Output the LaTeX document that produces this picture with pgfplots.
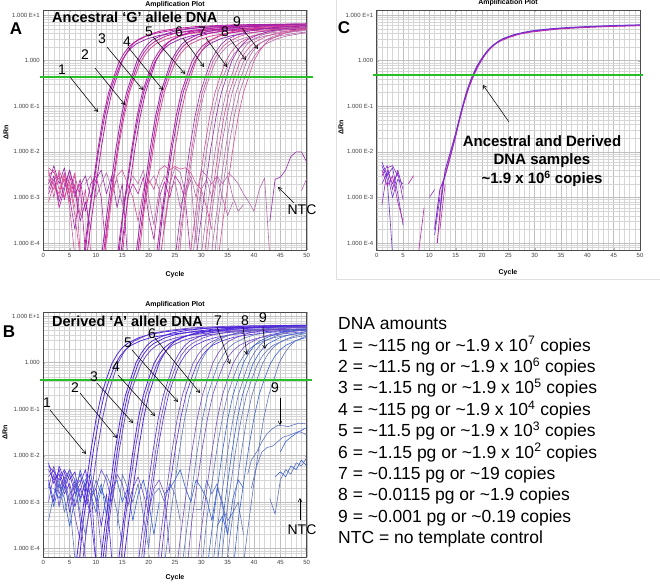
\documentclass[border=0pt]{standalone}
\usepackage{fontspec}
\setmainfont{Liberation Sans}
\usepackage{pgfplots}
\pgfplotsset{compat=1.18}
\usetikzlibrary{arrows.meta}
\definecolor{ma1}{RGB}{190,30,160}
\definecolor{ma2}{RGB}{150,40,170}
\definecolor{ma3}{RGB}{215,75,150}
\definecolor{ma4}{RGB}{180,105,170}
\definecolor{bl1}{RGB}{80,40,220}
\definecolor{bl2}{RGB}{110,75,200}
\definecolor{bl3}{RGB}{95,115,190}
\definecolor{bl4}{RGB}{55,95,210}
\definecolor{cv1}{RGB}{140,40,200}
\definecolor{cv2}{RGB}{185,40,170}
\definecolor{cv3}{RGB}{110,50,210}
\definecolor{thr}{RGB}{40,190,40}
\pgfplotsset{every axis/.append style={
  scale only axis, xmin=0, xmax=50,
  xtick={0,5,...,50}, xticklabels={0,5,10,15,20,25,30,35,40,45,50},
  ytick={1e-4,1e-3,1e-2,1e-1,1,10},
  yticklabels={1.000 E-4,1.000 E-3,1.000 E-2,1.000 E-1,1.000,1.000 E+1},
  minor xtick={1,2,3,4,6,7,8,9,11,12,13,14,16,17,18,19,21,22,23,24,26,27,28,29,31,32,33,34,36,37,38,39,41,42,43,44,46,47,48,49},
  minor ytick={8e-5,9e-5,2e-4,3e-4,4e-4,5e-4,6e-4,7e-4,8e-4,9e-4,2e-3,3e-3,4e-3,5e-3,6e-3,7e-3,8e-3,9e-3,0.02,0.03,0.04,0.05,0.06,0.07,0.08,0.09,0.2,0.3,0.4,0.5,0.6,0.7,0.8,0.9,2,3,4,5,6,7,8,9},
  grid=both, major grid style={gray!50,line width=0.4pt}, minor grid style={gray!32,line width=0.3pt},
  axis line style={gray!60!black,line width=0.5pt},
  tick label style={font=\fontsize{6}{7}\selectfont, text=black!75},
  major tick length=2pt, minor tick length=0pt, tick style={gray!60},
  clip mode=individual,
}, every axis plot/.append style={line width=0.6pt, line join=round}}
\begin{document}
\begin{tikzpicture}[x=1pt,y=1pt]
\useasboundingbox (0,0) rectangle (660,586);
\draw[gray!25, line width=0.8pt] (336.5,586) -- (336.5,307) -- (660,307);
% ================= PANEL A =================
\begin{axis}[ymode=log, at={(43.3pt,336pt)}, anchor=south west, width=263.4pt, height=240pt, ymin=7.08e-5, ymax=12.9]
% baseline noise
\addplot[ma3] coordinates {(1,3e-3)(2,4e-3)(3,1.5e-3)(4,2.5e-3)(5,8e-4)(6,2e-3)(7,4e-4)(8,1.5e-3)(9,6e-5)};
\addplot[ma1] coordinates {(1,1.2e-3)(2,2.5e-3)(3,3e-3)(4,9e-4)(5,3e-3)(6,1e-3)(7,2.5e-3)(8,5e-4)(9,2e-3)(10,3e-3)(11,1e-3)(12,5e-5)};
\addplot[ma3] coordinates {(1,4e-3)(2,1e-3)(3,4e-3)(4,2e-3)(5,1.5e-3)(6,3.5e-3)(7,6e-5)};
\addplot[ma2] coordinates {(1,2e-3)(2,5e-3)(3,2e-3)(4,4.5e-3)(5,1e-3)(6,2e-4)(7,1.8e-3)(8,3e-3)(9,1e-3)(10,2.5e-3)(11,4e-3)(12,1.2e-3)(13,3e-3)(14,6e-4)(15,2e-3)(16,5e-5)};
\addplot[ma3] coordinates {(1,8e-4)(2,2e-3)(3,1e-3)(4,3e-3)(5,2e-3)(6,4e-4)(7,5e-5)};
\addplot[ma1] coordinates {(2,3e-3)(3,6e-4)(4,1.5e-3)(5,4e-3)(6,1.2e-3)(7,2e-3)(8,6e-5)};
\addplot[ma3] coordinates {(1,2.5e-3)(2,1.5e-3)(3,3.5e-3)(4,1e-3)(5,2.2e-3)(6,6e-4)};
\addplot[ma3] coordinates {(1,4.5e-3)(2,3.5e-3)(3,2.5e-3)(4,3e-3)(5,1.2e-3)(6,3e-3)(7,1e-3)};
\addplot[ma2] coordinates {(1,1.5e-3)(2,3e-3)(3,8e-4)(4,1.8e-3)(5,4e-3)(6,1.5e-3)(7,3e-4)(8,8e-4)(9,2e-4)};
\addplot[ma3] coordinates {(1,3.5e-3)(2,2e-3)(3,1.2e-3)(4,3.5e-3)(5,6e-4)(6,5e-5)};
\addplot[ma4] coordinates {(8,2e-3)(9,3e-3)(10,1e-3)(11,2e-3)(12,3.5e-3)(13,1.5e-3)(14,2.5e-3)(15,7e-4)(16,1.5e-3)(17,3e-3)(18,2e-3)(19,4e-3)(20,1e-3)(21,2.5e-4)(22,1.5e-3)(23,3e-3)(24,2e-3)(25,4.5e-3)(26,3.5e-3)(27,1.2e-3)(28,2.5e-3)(29,1e-4)(30,1.5e-3)(31,2.5e-3)(32,1e-3)(33,3e-3)(34,2e-3)(35,3e-3)(36,1e-3)(37,5e-4)(38,7e-4)};
\addplot[ma3] coordinates {(12,1e-4)(13,1e-3)(14,3e-3)(15,4e-3)(16,2e-3)(17,1e-3)(18,3e-4)(19,1.5e-3)(20,2.5e-3)(21,1.5e-3)(22,4e-3)(23,5e-3)(24,4e-3)(25,4.8e-3)(26,4.2e-3)(27,4.5e-3)(28,3.5e-3)(29,2e-3)(30,1.5e-3)(31,6e-4)(32,2e-4)};
\addplot[ma1] coordinates {(15,5e-5)(16,1e-3)(17,2e-3)(18,1.2e-3)(19,2.8e-3)(20,4e-4)(21,1.2e-4)(22,1e-3)(23,2.2e-3)(24,1e-3)(25,3e-3)(26,2e-3)(27,8e-4)(28,5e-5)};
\addplot[ma4] coordinates {(20,2e-3)(21,3e-3)(22,1.5e-3)(23,2e-4)(24,1.5e-3)(25,2.2e-3)(26,6e-4)(27,1.5e-3)(28,3e-3)(29,1e-3)(30,4e-3)(31,3e-3)(32,2e-3)(33,3e-3)(34,1e-3)(35,4e-4)(36,8e-4)};
\addplot[ma4] coordinates {(35,3.5e-3)(36,2.8e-3)(37,2e-3)(38,1.2e-3)(39,8e-4)(40,5e-4)(41,1.5e-3)(42,2.7e-3)(43,5e-5)};
\addplot[ma2] coordinates {(43,3e-4)(44,2.5e-3)(45,2.8e-3)(46,4e-3)(47,8e-3)(48,1e-2)(49,1e-2)(50,6e-3)};
\addplot[ma4] coordinates {(49,1.4e-3)(50,2.6e-3)};
% group 1
\addplot[ma1,line width=0.8pt] coordinates {(7.4,3e-5)(8.4,2.5e-4)(9.4,1.8e-3)(10.4,0.012)(11.4,0.06)(12.4,0.2)(13.4,0.45)(14.4,0.95)(15.4,1.5)(16.4,2.1)(17.4,2.6)(19.4,3.4)(21.4,4.0)(24.4,4.6)(28.4,5.2)(35.4,5.7)(50,6.0)};
\addplot[ma2,line width=0.8pt] coordinates {(7.7,3e-5)(8.7,4e-4)(9.7,2.5e-3)(10.7,0.015)(11.7,0.065)(12.7,0.21)(13.7,0.45)(14.7,0.9)(15.7,1.4)(16.7,1.9)(17.7,2.35)(19.7,3.0)(21.7,3.5)(24.7,4.0)(28.7,4.5)(35.7,5.0)(50,5.3)};
\addplot[ma1,line width=0.8pt] coordinates {(8,3e-5)(9,2.5e-4)(10,1.8e-3)(11,0.012)(12,0.06)(13,0.2)(14,0.45)(15,1.0)(16,1.6)(17,2.3)(18,2.9)(20,3.7)(22,4.4)(25,5.0)(29,5.6)(36,6.1)(50,6.4)};
% group 2
\addplot[ma2,line width=0.8pt] coordinates {(10.8,3e-5)(11.8,2.5e-4)(12.8,1.8e-3)(13.8,0.012)(14.8,0.06)(15.8,0.2)(16.8,0.45)(17.8,1.0)(18.8,1.6)(19.8,2.3)(20.8,2.9)(22.8,3.7)(24.8,4.4)(27.8,5.0)(31.8,5.6)(38.8,6.1)(50,6.4)};
\addplot[ma1,line width=0.8pt] coordinates {(11.1,3e-5)(12.1,2.5e-4)(13.1,1.8e-3)(14.1,0.012)(15.1,0.06)(16.1,0.2)(17.1,0.45)(18.1,0.95)(19.1,1.5)(20.1,2.1)(21.1,2.6)(23.1,3.4)(25.1,4.0)(28.1,4.6)(32.1,5.2)(39.1,5.7)(50,5.95)};
\addplot[ma3,line width=0.8pt] coordinates {(11.4,3e-5)(12.4,4e-4)(13.4,2.5e-3)(14.4,0.015)(15.4,0.065)(16.4,0.21)(17.4,0.45)(18.4,0.9)(19.4,1.4)(20.4,1.9)(21.4,2.35)(23.4,3.0)(25.4,3.5)(28.4,4.0)(32.4,4.5)(39.4,5.0)(50,5.25)};
% group 3
\addplot[ma1,line width=0.8pt] coordinates {(13.8,3e-5)(14.8,2.5e-4)(15.8,1.8e-3)(16.8,0.012)(17.8,0.06)(18.8,0.2)(19.8,0.45)(20.8,0.95)(21.8,1.5)(22.8,2.1)(23.8,2.6)(25.8,3.4)(27.8,4.0)(30.8,4.6)(34.8,5.2)(41.8,5.7)(50,5.9)};
\addplot[ma2,line width=0.8pt] coordinates {(14.1,3e-5)(15.1,4e-4)(16.1,2.5e-3)(17.1,0.015)(18.1,0.065)(19.1,0.21)(20.1,0.45)(21.1,0.9)(22.1,1.4)(23.1,1.9)(24.1,2.35)(26.1,3.0)(28.1,3.5)(31.1,4.0)(35.1,4.5)(42.1,5.0)(50,5.2)};
\addplot[ma1,line width=0.8pt] coordinates {(14.4,3e-5)(15.4,2.5e-4)(16.4,1.8e-3)(17.4,0.012)(18.4,0.06)(19.4,0.2)(20.4,0.45)(21.4,1.0)(22.4,1.6)(23.4,2.3)(24.4,2.9)(26.4,3.7)(28.4,4.4)(31.4,5.0)(35.4,5.6)(42.4,6.1)(50,6.3)};
% group 4
\addplot[ma2,line width=0.8pt] coordinates {(17.3,3e-5)(18.3,2.5e-4)(19.3,1.8e-3)(20.3,0.012)(21.3,0.06)(22.3,0.2)(23.3,0.45)(24.3,1.0)(25.3,1.6)(26.3,2.3)(27.3,2.9)(29.3,3.7)(31.3,4.4)(34.3,5.0)(38.3,5.6)(45.3,6.1)(50,6.25)};
\addplot[ma1,line width=0.8pt] coordinates {(17.6,3e-5)(18.6,2.5e-4)(19.6,1.8e-3)(20.6,0.012)(21.6,0.06)(22.6,0.2)(23.6,0.45)(24.6,0.95)(25.6,1.5)(26.6,2.1)(27.6,2.6)(29.6,3.4)(31.6,4.0)(34.6,4.6)(38.6,5.2)(45.6,5.7)(50,5.85)};
\addplot[ma3,line width=0.8pt] coordinates {(18,3e-5)(19,4e-4)(20,2.5e-3)(21,0.015)(22,0.065)(23,0.21)(24,0.45)(25,0.9)(26,1.4)(27,1.9)(28,2.35)(30,3.0)(32,3.5)(35,4.0)(39,4.5)(46,5.0)(50,5.15)};
% group 5
\addplot[ma1,line width=0.8pt] coordinates {(21.2,3e-5)(22.2,2.5e-4)(23.2,1.8e-3)(24.2,0.012)(25.2,0.06)(26.2,0.2)(27.2,0.45)(28.2,0.95)(29.2,1.5)(30.2,2.1)(31.2,2.6)(33.2,3.4)(35.2,4.0)(38.2,4.6)(42.2,5.2)(49.2,5.7)(50,5.72)};
\addplot[ma2,line width=0.8pt] coordinates {(21.6,3e-5)(22.6,4e-4)(23.6,2.5e-3)(24.6,0.015)(25.6,0.065)(26.6,0.21)(27.6,0.45)(28.6,0.9)(29.6,1.4)(30.6,1.9)(31.6,2.35)(33.6,3.0)(35.6,3.5)(38.6,4.0)(42.6,4.5)(50,5.0)};
\addplot[ma3,line width=0.8pt] coordinates {(22,3e-5)(23,2.5e-4)(24,1.8e-3)(25,0.012)(26,0.06)(27,0.2)(28,0.45)(29,1.0)(30,1.6)(31,2.3)(32,2.9)(34,3.7)(36,4.4)(39,5.0)(43,5.6)(50,6.1)};
% group 6
\addplot[ma2] coordinates {(24.8,3e-5)(25.8,2.5e-4)(26.8,1.8e-3)(27.8,0.012)(28.8,0.06)(29.8,0.2)(30.8,0.45)(31.8,1.0)(32.8,1.6)(33.8,2.3)(34.8,2.9)(36.8,3.7)(38.8,4.4)(41.8,5.0)(45.8,5.6)(50,5.9)};
\addplot[ma3] coordinates {(25.2,3e-5)(26.2,2.5e-4)(27.2,1.8e-3)(28.2,0.012)(29.2,0.06)(30.2,0.2)(31.2,0.45)(32.2,0.95)(33.2,1.5)(34.2,2.1)(35.2,2.6)(37.2,3.4)(39.2,4.0)(42.2,4.6)(46.2,5.2)(50,5.45)};
\addplot[ma4] coordinates {(25.6,3e-5)(26.6,4e-4)(27.6,2.5e-3)(28.6,0.015)(29.6,0.065)(30.6,0.21)(31.6,0.45)(32.6,0.9)(33.6,1.4)(34.6,1.9)(35.6,2.35)(37.6,3.0)(39.6,3.5)(42.6,4.0)(46.6,4.5)(50,4.75)};
% group 7
\addplot[ma3] coordinates {(27.6,3e-5)(28.6,2.5e-4)(29.6,1.8e-3)(30.6,0.012)(31.6,0.06)(32.6,0.2)(33.6,0.45)(34.6,0.95)(35.6,1.5)(36.6,2.1)(37.6,2.6)(39.6,3.4)(41.6,4.0)(44.6,4.6)(48.6,5.2)(50,5.3)};
\addplot[ma4] coordinates {(28.2,3e-5)(29.2,4e-4)(30.2,2.5e-3)(31.2,0.015)(32.2,0.065)(33.2,0.21)(34.2,0.45)(35.2,0.9)(36.2,1.4)(37.2,1.9)(38.2,2.35)(40.2,3.0)(42.2,3.5)(45.2,4.0)(49.2,4.5)(50,4.55)};
\addplot[ma2] coordinates {(28.8,3e-5)(29.8,2.5e-4)(30.8,1.8e-3)(31.8,0.012)(32.8,0.06)(33.8,0.2)(34.8,0.45)(35.8,1.0)(36.8,1.6)(37.8,2.3)(38.8,2.9)(40.8,3.7)(42.8,4.4)(45.8,5.0)(50,5.55)};
% group 8
\addplot[ma4] coordinates {(29.7,3e-5)(30.7,2.5e-4)(31.7,1.8e-3)(32.7,0.012)(33.7,0.06)(34.7,0.2)(35.7,0.45)(36.7,1.0)(37.7,1.6)(38.7,2.3)(39.7,2.9)(41.7,3.7)(43.7,4.4)(46.7,5.0)(50,5.45)};
\addplot[ma3] coordinates {(30.3,3e-5)(31.3,2.5e-4)(32.3,1.8e-3)(33.3,0.012)(34.3,0.06)(35.3,0.2)(36.3,0.45)(37.3,0.95)(38.3,1.5)(39.3,2.1)(40.3,2.6)(42.3,3.4)(44.3,4.0)(47.3,4.6)(50,4.95)};
\addplot[ma4] coordinates {(30.9,3e-5)(31.9,4e-4)(32.9,2.5e-3)(33.9,0.015)(34.9,0.065)(35.9,0.21)(36.9,0.45)(37.9,0.9)(38.9,1.4)(39.9,1.9)(40.9,2.35)(42.9,3.0)(44.9,3.5)(47.9,4.0)(50,4.25)};
% group 9
\addplot[ma4] coordinates {(31.6,3e-5)(32.6,2.5e-4)(33.6,1.8e-3)(34.6,0.012)(35.6,0.06)(36.6,0.2)(37.6,0.45)(38.6,0.95)(39.6,1.5)(40.6,2.1)(41.6,2.6)(43.6,3.4)(45.6,4.0)(48.6,4.6)(50,4.8)};
\addplot[ma4] coordinates {(32.3,3e-5)(33.3,4e-4)(34.3,2.5e-3)(35.3,0.015)(36.3,0.065)(37.3,0.21)(38.3,0.45)(39.3,0.9)(40.3,1.4)(41.3,1.9)(42.3,2.35)(44.3,3.0)(46.3,3.5)(49.3,4.0)(50,4.1)};
\addplot[ma3] coordinates {(33,3e-5)(34,2.5e-4)(35,1.8e-3)(36,0.012)(37,0.06)(38,0.2)(39,0.45)(40,1.0)(41,1.6)(42,2.3)(43,2.9)(45,3.7)(47,4.4)(50,5.0)};
\draw[thr,line width=1.6pt] (axis cs:-0.7,0.436) -- (axis cs:51.2,0.436);
\end{axis}
% ================= PANEL B =================
\begin{axis}[ymode=log, at={(43.3pt,29pt)}, anchor=south west, width=263.4pt, height=245pt, ymin=6.6e-5, ymax=12.3]
\addplot[bl1] coordinates {(1,5e-3)(2,3e-3)(3,4e-3)(4,1.5e-3)(5,2.5e-3)(6,8e-4)(7,2e-3)(8,1e-3)(9,3e-3)(10,5e-5)};
\addplot[bl2] coordinates {(1,2e-3)(2,6e-3)(3,2e-3)(4,3.5e-3)(5,1e-3)(6,3e-3)(7,4e-4)(8,6e-5)};
\addplot[bl1] coordinates {(1,7e-3)(2,2.5e-3)(3,5e-3)(4,2e-3)(5,4e-3)(6,1.5e-3)(7,2.5e-3)(8,5e-3)(9,1.2e-3)(10,2e-3)(11,3e-4)(12,1.5e-3)(13,6e-5)};
\addplot[bl2] coordinates {(1,1e-3)(2,4e-3)(3,8e-4)(4,4.5e-3)(5,2e-3)(6,5e-4)(7,1.5e-4)};
\addplot[bl3] coordinates {(1,4e-4)(2,1.5e-3)(3,3e-3)(4,6e-4)(5,1.5e-3)(6,2.5e-3)(7,6e-4)(8,2e-4)(9,1e-3)(10,3e-3)(11,1.5e-3)(12,4e-3)(13,2e-3)(14,6e-4)(15,1.2e-4)};
\addplot[bl1] coordinates {(1,3e-3)(2,1e-3)(3,6e-3)(4,3e-3)(5,6e-4)(6,2e-3)(7,4e-3)(8,1.5e-3)(9,5e-4)(10,5e-5)};
\addplot[bl4] coordinates {(2,2e-3)(3,1.2e-3)(4,2.5e-3)(5,5e-3)(6,3e-3)(7,1e-3)(8,3e-3)(9,4e-3)(10,1e-3)(11,2.5e-3)(12,5e-4)(13,2e-3)(14,3e-3)(15,1e-3)(16,2e-3)(17,4e-4)(18,1.5e-3)(19,3e-3)(20,1e-3)(21,2e-4)(22,1e-3)};
\addplot[bl2] coordinates {(10,2e-3)(11,5e-3)(12,3e-3)(13,1e-3)(14,4e-3)(15,2.5e-3)(16,8e-4)(17,2e-3)(18,3.5e-3)(19,1.5e-3)(20,6e-4)(21,2e-3)(22,3e-3)(23,1.5e-3)(24,8e-5)};
\addplot[bl3] coordinates {(14,3e-4)(15,4e-3)(16,2e-3)(17,1e-3)(18,2.5e-3)(19,5e-4)(20,1e-4)(21,1.5e-3)(22,2e-3)(23,1e-3)(24,2.5e-3)(25,1.5e-3)(26,4e-4)};
\addplot[bl4] coordinates {(23,1.5e-3)(24,2e-3)(25,3e-3)(26,5e-3)(27,2e-3)(28,1e-3)(29,3e-3)(30,2e-3)(31,1.2e-3)(32,4e-4)(33,2e-3)(34,1e-3)(35,2e-4)};
\addplot[bl3] coordinates {(29,7e-4)(30,7e-4)(31,3e-3)(32,1.5e-3)(33,2.5e-3)(34,8e-4)(35,4e-4)(36,6e-4)(37,1e-3)(38,2e-4)};
\addplot[bl1] coordinates {(1,6e-3)(2,4.5e-3)(3,3e-3)(4,5e-3)(5,3e-3)(6,4.5e-3)(7,1.2e-3)(8,2.5e-3)(9,6e-4)};
\addplot[bl2] coordinates {(1,3.5e-3)(2,5e-3)(3,1.5e-3)(4,3e-3)(5,5e-3)(6,2e-3)(7,3e-3)(8,8e-4)(9,2e-3)(10,1.2e-3)(11,1e-4)};
\addplot[bl4] coordinates {(1,2.5e-3)(2,8e-4)(3,2.5e-3)(4,1.2e-3)(5,3e-4)(6,1.2e-3)(7,5e-3)(8,2e-3)(9,1.5e-3)(10,6e-4)(11,2e-3)(12,1e-3)};
\addplot[bl3] coordinates {(3,8e-4)(4,2e-3)(5,1e-3)(6,6e-5)};
\addplot[bl4] coordinates {(33,3e-4)(34,5e-4)(35,2e-4)(36,1.2e-3)(37,3e-3)(38,2e-3)};
% NTC and late
\addplot[bl3] coordinates {(43,1.2e-3)(44,5.5e-4)(45,3e-3)(46,5e-3)(47,4e-3)(48,7e-3)(49,6e-3)(50,9e-3)};
\addplot[bl4] coordinates {(44,3.5e-3)(45,4.5e-3)(46,3.5e-3)(47,6e-3)(48,5e-3)(49,8e-3)(50,6e-3)};
\addplot[bl3] coordinates {(38.8,4e-3)(39.5,8e-3)(40.5,0.012)(41.5,0.02)(42.5,0.03)(43.5,0.038)(44.5,0.045)(45.5,0.044)(46.5,0.042)(47.5,0.046)(48.5,0.05)(50,0.048)};
\addplot[bl3] coordinates {(39.5,2e-3)(40.5,6e-3)(41.5,0.012)(42.5,0.015)(43.5,0.016)(44.5,0.02)(45.5,0.025)(46.5,0.027)(47.5,0.03)(48.5,0.033)(49.5,0.03)(50,0.028)};
\addplot[bl4] coordinates {(45,0.012)(46,0.02)(47,0.025)(48,0.03)(49,0.035)(50,0.04)};
% group 1
\addplot[bl1,line width=0.8pt] coordinates {(6,3e-5)(7,2.5e-4)(8,1.8e-3)(9,0.012)(10,0.06)(11,0.2)(12,0.45)(13,0.95)(14,1.5)(15,2.1)(16,2.6)(18,3.4)(20,4.0)(23,4.6)(27,5.2)(34,5.7)(50,6.0)};
\addplot[bl1,line width=0.8pt] coordinates {(6.6,3e-5)(7.6,4e-4)(8.6,2.5e-3)(9.6,0.015)(10.6,0.065)(11.6,0.21)(12.6,0.45)(13.6,0.9)(14.6,1.4)(15.6,1.9)(16.6,2.35)(18.6,3.0)(20.6,3.5)(23.6,4.0)(27.6,4.5)(34.6,5.0)(50,5.3)};
\addplot[bl2,line width=0.8pt] coordinates {(7.2,3e-5)(8.2,2.5e-4)(9.2,1.8e-3)(10.2,0.012)(11.2,0.06)(12.2,0.2)(13.2,0.45)(14.2,1.0)(15.2,1.6)(16.2,2.3)(17.2,2.9)(19.2,3.7)(21.2,4.4)(24.2,5.0)(28.2,5.6)(35.2,6.1)(50,6.4)};
% group 2
\addplot[bl1,line width=0.8pt] coordinates {(10.6,3e-5)(11.6,2.5e-4)(12.6,1.8e-3)(13.6,0.012)(14.6,0.06)(15.6,0.2)(16.6,0.45)(17.6,1.0)(18.6,1.6)(19.6,2.3)(20.6,2.9)(22.6,3.7)(24.6,4.4)(27.6,5.0)(31.6,5.6)(38.6,6.1)(50,6.4)};
\addplot[bl1,line width=0.8pt] coordinates {(11,3e-5)(12,2.5e-4)(13,1.8e-3)(14,0.012)(15,0.06)(16,0.2)(17,0.45)(18,0.95)(19,1.5)(20,2.1)(21,2.6)(23,3.4)(25,4.0)(28,4.6)(32,5.2)(39,5.7)(50,5.95)};
\addplot[bl2,line width=0.8pt] coordinates {(11.5,3e-5)(12.5,4e-4)(13.5,2.5e-3)(14.5,0.015)(15.5,0.065)(16.5,0.21)(17.5,0.45)(18.5,0.9)(19.5,1.4)(20.5,1.9)(21.5,2.35)(23.5,3.0)(25.5,3.5)(28.5,4.0)(32.5,4.5)(39.5,5.0)(50,5.25)};
% group 3
\addplot[bl1,line width=0.8pt] coordinates {(14,3e-5)(15,2.5e-4)(16,1.8e-3)(17,0.012)(18,0.06)(19,0.2)(20,0.45)(21,0.95)(22,1.5)(23,2.1)(24,2.6)(26,3.4)(28,4.0)(31,4.6)(35,5.2)(42,5.7)(50,5.9)};
\addplot[bl2,line width=0.8pt] coordinates {(14.5,3e-5)(15.5,4e-4)(16.5,2.5e-3)(17.5,0.015)(18.5,0.065)(19.5,0.21)(20.5,0.45)(21.5,0.9)(22.5,1.4)(23.5,1.9)(24.5,2.35)(26.5,3.0)(28.5,3.5)(31.5,4.0)(35.5,4.5)(42.5,5.0)(50,5.2)};
\addplot[bl1,line width=0.8pt] coordinates {(15,3e-5)(16,2.5e-4)(17,1.8e-3)(18,0.012)(19,0.06)(20,0.2)(21,0.45)(22,1.0)(23,1.6)(24,2.3)(25,2.9)(27,3.7)(29,4.4)(32,5.0)(36,5.6)(43,6.1)(50,6.3)};
% group 4
\addplot[bl1] coordinates {(17.8,3e-5)(18.8,2.5e-4)(19.8,1.8e-3)(20.8,0.012)(21.8,0.06)(22.8,0.2)(23.8,0.45)(24.8,1.0)(25.8,1.6)(26.8,2.3)(27.8,2.9)(29.8,3.7)(31.8,4.4)(34.8,5.0)(38.8,5.6)(45.8,6.1)(50,6.2)};
\addplot[bl2] coordinates {(18.3,3e-5)(19.3,2.5e-4)(20.3,1.8e-3)(21.3,0.012)(22.3,0.06)(23.3,0.2)(24.3,0.45)(25.3,0.95)(26.3,1.5)(27.3,2.1)(28.3,2.6)(30.3,3.4)(32.3,4.0)(35.3,4.6)(39.3,5.2)(46.3,5.7)(50,5.8)};
\addplot[bl1] coordinates {(18.8,3e-5)(19.8,4e-4)(20.8,2.5e-3)(21.8,0.015)(22.8,0.065)(23.8,0.21)(24.8,0.45)(25.8,0.9)(26.8,1.4)(27.8,1.9)(28.8,2.35)(30.8,3.0)(32.8,3.5)(35.8,4.0)(39.8,4.5)(46.8,5.0)(50,5.1)};
% group 5
\addplot[bl2] coordinates {(21.4,3e-5)(22.4,2.5e-4)(23.4,1.8e-3)(24.4,0.012)(25.4,0.06)(26.4,0.2)(27.4,0.45)(28.4,0.95)(29.4,1.5)(30.4,2.1)(31.4,2.6)(33.4,3.4)(35.4,4.0)(38.4,4.6)(42.4,5.2)(49.4,5.7)(50,5.72)};
\addplot[bl1] coordinates {(22.1,3e-5)(23.1,4e-4)(24.1,2.5e-3)(25.1,0.015)(26.1,0.065)(27.1,0.21)(28.1,0.45)(29.1,0.9)(30.1,1.4)(31.1,1.9)(32.1,2.35)(34.1,3.0)(36.1,3.5)(39.1,4.0)(43.1,4.5)(50,4.98)};
\addplot[bl3] coordinates {(22.8,3e-5)(23.8,2.5e-4)(24.8,1.8e-3)(25.8,0.012)(26.8,0.06)(27.8,0.2)(28.8,0.45)(29.8,1.0)(30.8,1.6)(31.8,2.3)(32.8,2.9)(34.8,3.7)(36.8,4.4)(39.8,5.0)(43.8,5.6)(50,6.0)};
% group 6
\addplot[bl2] coordinates {(25.2,3e-5)(26.2,2.5e-4)(27.2,1.8e-3)(28.2,0.012)(29.2,0.06)(30.2,0.2)(31.2,0.45)(32.2,1.0)(33.2,1.6)(34.2,2.3)(35.2,2.9)(37.2,3.7)(39.2,4.4)(42.2,5.0)(46.2,5.6)(50,5.85)};
\addplot[bl3] coordinates {(26.2,3e-5)(27.2,2.5e-4)(28.2,1.8e-3)(29.2,0.012)(30.2,0.06)(31.2,0.2)(32.2,0.45)(33.2,0.95)(34.2,1.5)(35.2,2.1)(36.2,2.6)(38.2,3.4)(40.2,4.0)(43.2,4.6)(47.2,5.2)(50,5.4)};
\addplot[bl2] coordinates {(27.2,3e-5)(28.2,4e-4)(29.2,2.5e-3)(30.2,0.015)(31.2,0.065)(32.2,0.21)(33.2,0.45)(34.2,0.9)(35.2,1.4)(36.2,1.9)(37.2,2.35)(39.2,3.0)(41.2,3.5)(44.2,4.0)(48.2,4.5)(50,4.65)};
% group 7
\addplot[bl2] coordinates {(29,3e-5)(30,2.5e-4)(31,1.8e-3)(32,0.012)(33,0.06)(34,0.2)(35,0.45)(36,0.95)(37,1.5)(38,2.1)(39,2.6)(41,3.4)(43,4.0)(46,4.6)(50,5.15)};
\addplot[bl3] coordinates {(30,3e-5)(31,4e-4)(32,2.5e-3)(33,0.015)(34,0.065)(35,0.21)(36,0.45)(37,0.9)(38,1.4)(39,1.9)(40,2.35)(42,3.0)(44,3.5)(47,4.0)(50,4.35)};
\addplot[bl4] coordinates {(31,3e-5)(32,2.5e-4)(33,1.8e-3)(34,0.012)(35,0.06)(36,0.2)(37,0.45)(38,1.0)(39,1.6)(40,2.3)(41,2.9)(43,3.7)(45,4.4)(48,5.0)(50,5.2)};
% group 8
\addplot[bl3] coordinates {(32,3e-5)(33,2.5e-4)(34,1.8e-3)(35,0.012)(36,0.06)(37,0.2)(38,0.45)(39,1.0)(40,1.6)(41,2.3)(42,2.9)(44,3.7)(46,4.4)(49,5.0)(50,5.1)};
\addplot[bl4] coordinates {(32.8,3e-5)(33.8,2.5e-4)(34.8,1.8e-3)(35.8,0.012)(36.8,0.06)(37.8,0.2)(38.8,0.45)(39.8,0.95)(40.8,1.5)(41.8,2.1)(42.8,2.6)(44.8,3.4)(46.8,4.0)(49.8,4.6)(50,4.62)};
\addplot[bl3] coordinates {(33.6,3e-5)(34.6,4e-4)(35.6,2.5e-3)(36.6,0.015)(37.6,0.065)(38.6,0.21)(39.6,0.45)(40.6,0.9)(41.6,1.4)(42.6,1.9)(43.6,2.35)(45.6,3.0)(47.6,3.5)(50,3.85)};
% group 9
\addplot[bl3] coordinates {(34.6,3e-5)(35.6,2.5e-4)(36.6,1.8e-3)(37.6,0.012)(38.6,0.06)(39.6,0.2)(40.6,0.45)(41.6,0.95)(42.6,1.5)(43.6,2.1)(44.6,2.6)(46.6,3.4)(48.6,4.0)(50,4.25)};
\addplot[bl4] coordinates {(36,3e-5)(37,4e-4)(38,2.5e-3)(39,0.015)(40,0.065)(41,0.21)(42,0.45)(43,0.9)(44,1.4)(45,1.9)(46,2.35)(48,3.0)(50,3.5)};
\addplot[bl3] coordinates {(37.8,3e-5)(38.8,2.5e-4)(39.8,1.8e-3)(40.8,0.012)(41.8,0.06)(42.8,0.2)(43.8,0.45)(44.8,1.0)(45.8,1.6)(46.8,2.3)(47.8,2.9)(49.8,3.7)(50,3.75)};
\draw[thr,line width=1.6pt] (axis cs:-0.7,0.42) -- (axis cs:51,0.42);
\end{axis}
% ================= PANEL C =================
\begin{axis}[ymode=log, at={(376.7pt,336pt)}, anchor=south west, width=263.3pt, height=240pt, ymin=7.08e-5, ymax=12.9]
\addplot[cv3] coordinates {(1,6e-3)(2,3e-3)(3,4.5e-3)(4,1.2e-3)(5,2.5e-4)};
\addplot[cv1] coordinates {(1,7e-4)(2,4e-3)(3,2e-3)(4,3.5e-3)(5,9e-4)};
\addplot[cv3] coordinates {(1,5e-3)(2,2.5e-3)(3,6e-5)};
\addplot[cv1] coordinates {(1,3e-3)(2,5e-3)(3,1.5e-3)(4,4e-3)(5,1.5e-3)};
\addplot[cv2] coordinates {(1,4e-3)(2,1.8e-3)(3,3e-3)(4,8e-4)(5,3e-4)};
\addplot[cv3] coordinates {(1,2e-3)(2,3.5e-3)(3,1e-3)(4,2.5e-3)(5,2e-3)};
\addplot[cv1] coordinates {(2,4.5e-3)(3,5e-3)(4,3e-3)};
\addplot[cv2] coordinates {(6,2e-3)(7,3e-3)};
\addplot[cv2] coordinates {(8,7e-5)(9,6e-4)};
\addplot[cv1] coordinates {(10,1e-3)(11,1.5e-3)};
\addplot[cv3] coordinates {(11,1.5e-4)(12,1e-3)};
\addplot[cv2] coordinates {(12,2e-4)(13,2e-3)};
\addplot[cv1,line width=0.9pt] coordinates {(11,2e-4)(12,1.5e-3)(13,3e-3)(14,8e-3)(15,0.022)(16,0.07)(17,0.18)(18,0.38)(19,0.7)(20,1.1)(21,1.6)(22,2.1)(23,2.6)(24,3.0)(26,3.6)(28,4.1)(30,4.5)(33,4.9)(36,5.2)(40,5.5)(45,5.8)(50,6.0)};
\addplot[cv2,line width=0.9pt] coordinates {(11.5,1e-4)(12.5,2e-3)(13.5,5e-3)(14.5,0.014)(15.5,0.04)(16.5,0.11)(17.5,0.26)(18.5,0.5)(19.5,0.85)(20.5,1.3)(21.5,1.8)(22.5,2.3)(23.5,2.7)(25,3.2)(27,3.8)(29,4.2)(32,4.6)(35,5.0)(39,5.3)(44,5.6)(50,5.85)};
\addplot[cv3,line width=0.9pt] coordinates {(12,5e-4)(13,4e-3)(14,0.01)(15,0.026)(16,0.075)(17,0.2)(18,0.42)(19,0.75)(20,1.15)(21,1.65)(22,2.15)(23,2.6)(24,3.05)(26,3.7)(28,4.2)(30,4.6)(33,5.0)(36,5.3)(40,5.6)(45,5.9)(50,6.1)};
\draw[thr,line width=1.6pt] (axis cs:-0.7,0.48) -- (axis cs:50.6,0.48);
\end{axis}
% ================= TEXT =================
\tikzset{ttl/.style={font=\bfseries\fontsize{7}{8}\selectfont},
  lbl/.style={font=\fontsize{14}{16}\selectfont, inner sep=0pt},
  arr/.style={-{Straight Barb[length=3.5pt,width=4pt]}, line width=0.55pt, black}}
\node[ttl] at (175,581) {Amplification Plot};
\node[ttl] at (175,281) {Amplification Plot};
\node[ttl] at (508,583) {Amplification Plot};
\node[ttl] at (175,311) {Cycle};
\node[ttl] at (175,8) {Cycle};
\node[ttl] at (508,313) {Cycle};
\node[ttl,rotate=90] at (6,454) {ΔRn};
\node[ttl,rotate=90] at (5,154) {ΔRn};
\node[ttl,rotate=90] at (341,459) {ΔRn};
\node[font=\bfseries\fontsize{17}{18}\selectfont] at (16,557) {A};
\node[font=\bfseries\fontsize{17}{18}\selectfont] at (9,254) {B};
\node[font=\bfseries\fontsize{17}{18}\selectfont] at (344,558) {C};
\node[font=\bfseries\fontsize{14.5}{16}\selectfont, anchor=west, inner sep=0pt] at (52,569) {Ancestral ‘G’ allele DNA};
\node[font=\bfseries\fontsize{14.5}{16}\selectfont, anchor=west, inner sep=0pt] at (52,265) {Derived ‘A’ allele DNA};
% A labels
\node[lbl] at (62,516) {1}; \draw[arr] (70,509) -- (98,474);
\node[lbl] at (85,531) {2}; \draw[arr] (95,518) -- (125,481);
\node[lbl] at (102,547) {3}; \draw[arr] (107,539) -- (143,496);
\node[lbl] at (127,544) {4}; \draw[arr] (128,539) -- (163,496);
\node[lbl] at (149,554) {5}; \draw[arr] (153,549) -- (185,512);
\node[lbl] at (179,554) {6}; \draw[arr] (183,548) -- (204,519);
\node[lbl] at (202,554) {7}; \draw[arr] (206,548) -- (227,519);
\node[lbl] at (225,554) {8}; \draw[arr] (230,547) -- (246,526);
\node[lbl] at (237,564) {9}; \draw[arr] (242,558) -- (258,537);
\node[lbl] at (302,376) {NTC}; \draw[arr] (294,383) -- (278,399);
% B labels
\node[lbl] at (47,183) {1}; \draw[arr] (50,176) -- (86,132);
\node[lbl] at (75,198) {2}; \draw[arr] (80,193) -- (117,148);
\node[lbl] at (94,209) {3}; \draw[arr] (97,203) -- (133,163);
\node[lbl] at (116,219) {4}; \draw[arr] (118,211) -- (155,170);
\node[lbl] at (128,243) {5}; \draw[arr] (132,236) -- (178,184);
\node[lbl] at (152,252) {6}; \draw[arr] (155,248) -- (200,193);
\node[lbl] at (218,265) {7}; \draw[arr] (217,259) -- (230,222);
\node[lbl] at (245,265) {8}; \draw[arr] (243,259) -- (247,231);
\node[lbl] at (263,268) {9}; \draw[arr] (263,259) -- (265,237);
\node[lbl] at (275,198) {9}; \draw[arr] (280,188) -- (280,161);
\node[lbl] at (302,56) {NTC}; \draw[arr] (300,66) -- (300,88);
% C text
\node[font=\bfseries\fontsize{15}{18.5}\selectfont, align=center] at (542,425) {Ancestral and Derived\\DNA samples\\\textasciitilde1.9 x 10\textsuperscript{6} copies};
\draw[arr] (509,464) -- (483,501);
% legend
\begin{scope}[every node/.style={anchor=base west, inner sep=0pt, font=\fontsize{17.5}{19}\selectfont}]
\node at (338,256.3) {DNA amounts};
\node at (338,234.9) {1 = \textasciitilde115 ng or \textasciitilde1.9 x 10\textsuperscript{7} copies};
\node at (338,213.5) {2 = \textasciitilde11.5 ng or \textasciitilde1.9 x 10\textsuperscript{6} copies};
\node at (338,192.1) {3 = \textasciitilde1.15 ng or \textasciitilde1.9 x 10\textsuperscript{5} copies};
\node at (338,170.7) {4 = \textasciitilde115 pg or \textasciitilde1.9 x 10\textsuperscript{4} copies};
\node at (338,149.3) {5 = \textasciitilde11.5 pg or \textasciitilde1.9 x 10\textsuperscript{3} copies};
\node at (338,127.9) {6 = \textasciitilde1.15 pg or \textasciitilde1.9 x 10\textsuperscript{2} copies};
\node at (338,106.5) {7 = \textasciitilde0.115 pg or \textasciitilde19 copies};
\node at (338,85.1) {8 = \textasciitilde0.0115 pg or \textasciitilde1.9 copies};
\node at (338,63.7) {9 = \textasciitilde0.001 pg or \textasciitilde0.19 copies};
\node at (338,42.3) {NTC = no template control};
\end{scope}
\end{tikzpicture}
\end{document}
